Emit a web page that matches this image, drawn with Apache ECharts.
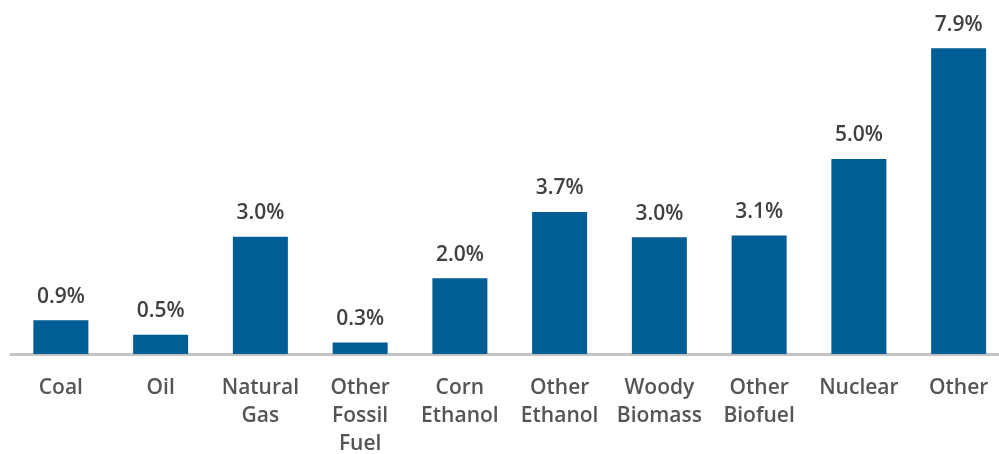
<!DOCTYPE html>
<html>
<head>
<meta charset="utf-8">
<style>
html,body{margin:0;padding:0;background:#fff;}
#c{width:999px;height:454px;}
</style>
<script src="https://cdn.jsdelivr.net/npm/echarts@6/dist/echarts.min.js"></script>
</head>
<body>
<div id="c"></div>
<script>
const categories = ["Coal", "Oil", "Natural\nGas", "Other\nFossil\nFuel", "Corn\nEthanol", "Other\nEthanol", "Woody\nBiomass", "Other\nBiofuel", "Nuclear", "Other"];
const values = [0.87, 0.5, 3.03, 0.3, 1.96, 3.67, 3.02, 3.06, 5.04, 7.9];

const chart = echarts.init(document.getElementById('c'), null, {renderer: 'canvas'});
chart.setOption({
  animation: false,
  backgroundColor: '#ffffff',
  grid: {left: 11, top: 44.4, width: 997.5, height: 309.6, containLabel: false, outerBoundsMode: 'none'},
  xAxis: {
    type: 'category',
    data: categories,
    boundaryGap: true,
    axisLine: {show: true, lineStyle: {color: '#c4c4c4', width: 3}},
    axisTick: {show: false},
    axisLabel: {
      interval: 0,
      margin: 20,
      color: '#555555',
      fontFamily: 'Open Sans',
      fontWeight: 600,
      fontSize: 21,
      lineHeight: 28
    }
  },
  yAxis: {
    type: 'value',
    min: 0,
    max: 8,
    show: false,
    splitLine: {show: false}
  },
  series: [{
    type: 'bar',
    data: values,
    barWidth: 55,
    itemStyle: {color: '#005e94'},
    label: {
      show: true,
      position: 'top',
      distance: 13,
      color: '#404040',
      fontFamily: 'Open Sans',
      fontWeight: 600,
      fontSize: 21,
      formatter: p => p.value.toFixed(1) + '%'
    }
  }]
});
</script>
</body>
</html>
